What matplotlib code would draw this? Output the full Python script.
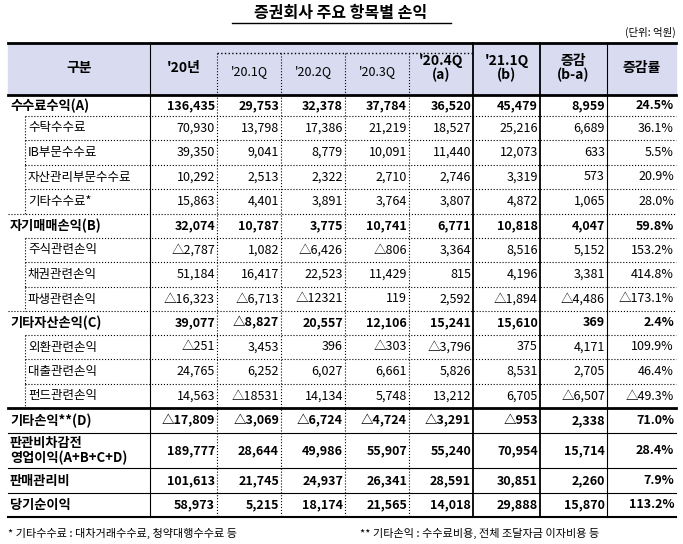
import matplotlib.pyplot as plt

plt.rcParams["font.family"] = ["Noto Sans CJK JP", "Noto Sans CJK KR", "Noto Sans CJK SC", "DejaVu Sans"]

title = "증권회사 주요 항목별 손익"
unit = "(단위: 억원)"
headers = ["구분", "'20년", "'20.1Q", "'20.2Q", "'20.3Q", "'20.4Q\n(a)", "'21.1Q\n(b)", "증감\n(b-a)", "증감률"]

items = ["수수료수익(A)", "수탁수수료", "IB부문수수료", "자산관리부문수수료", "기타수수료*",
         "자기매매손익(B)", "주식관련손익", "채권관련손익", "파생관련손익",
         "기타자산손익(C)", "외환관련손익", "대출관련손익", "펀드관련손익",
         "기타손익**(D)", "판관비차감전\n영업이익(A+B+C+D)", "판매관리비", "당기순이익"]
is_sub = [0, 1, 1, 1, 1, 0, 1, 1, 1, 0, 1, 1, 1, 0, 0, 0, 0]

y2020 = ["136,435", "70,930", "39,350", "10,292", "15,863", "32,074", "△2,787", "51,184", "△16,323",
         "39,077", "△251", "24,765", "14,563", "△17,809", "189,777", "101,613", "58,973"]
q1 = ["29,753", "13,798", "9,041", "2,513", "4,401", "10,787", "1,082", "16,417", "△6,713",
      "△8,827", "3,453", "6,252", "△18531", "△3,069", "28,644", "21,745", "5,215"]
q2 = ["32,378", "17,386", "8,779", "2,322", "3,891", "3,775", "△6,426", "22,523", "△12321",
      "20,557", "396", "6,027", "14,134", "△6,724", "49,986", "24,937", "18,174"]
q3 = ["37,784", "21,219", "10,091", "2,710", "3,764", "10,741", "△806", "11,429", "119",
      "12,106", "△303", "6,661", "5,748", "△4,724", "55,907", "26,341", "21,565"]
q4 = ["36,520", "18,527", "11,440", "2,746", "3,807", "6,771", "3,364", "815", "2,592",
      "15,241", "△3,796", "5,826", "13,212", "△3,291", "55,240", "28,591", "14,018"]
q21 = ["45,479", "25,216", "12,073", "3,319", "4,872", "10,818", "8,516", "4,196", "△1,894",
       "15,610", "375", "8,531", "6,705", "△953", "70,954", "30,851", "29,888"]
diff = ["8,959", "6,689", "633", "573", "1,065", "4,047", "5,152", "3,381", "△4,486",
        "369", "4,171", "2,705", "△6,507", "2,338", "15,714", "2,260", "15,870"]
rate = ["24.5%", "36.1%", "5.5%", "20.9%", "28.0%", "59.8%", "153.2%", "414.8%", "△173.1%",
        "2.4%", "109.9%", "46.4%", "△49.3%", "71.0%", "28.4%", "7.9%", "113.2%"]
columns = [y2020, q1, q2, q3, q4, q21, diff, rate]

# layout in pixels
xs = [8, 150, 217, 281, 345, 409, 473, 540, 607, 676]
row_edges = [95, 116, 140, 165, 189, 214, 238, 262, 287, 311, 335, 359, 384, 408, 433, 468, 493, 517]
header_top = 43

fig = plt.figure(figsize=(6.83, 5.44), dpi=100)
ax = fig.add_axes([0, 0, 1, 1])
ax.set_xlim(0, 683)
ax.set_ylim(544, 0)
ax.axis("off")

ax.text(341, 13, title, ha="center", va="center", fontsize=11.5, fontweight="bold")
ax.plot([232, 451], [23, 23], color="black", lw=1)
ax.text(676, 32, unit, ha="right", va="center", fontsize=7.5)

# header
ax.fill_between([xs[0], xs[-1]], header_top, row_edges[0], color="#D9DCF0")
for i, h in enumerate(headers):
    xc = (xs[i] + xs[i + 1]) / 2
    quarter = 2 <= i <= 4
    ax.text(xc, 72 if quarter else 68, h, ha="center", va="center", fontsize=9 if quarter else 10,
            fontweight="normal" if quarter else "bold", linespacing=1.0)
ax.plot([xs[0], xs[-1]], [header_top, header_top], color="black", lw=2)
ax.plot([xs[0], xs[-1]], [row_edges[0], row_edges[0]], color="black", lw=2)
ax.plot([xs[2], xs[6]], [53, 53], color="black", lw=1, ls=":")

# body
for r, name in enumerate(items):
    top, bot = row_edges[r], row_edges[r + 1]
    yc = (top + bot) / 2
    bold = not is_sub[r]
    if is_sub[r]:
        ax.text(28, yc, name, ha="left", va="center", fontsize=9)
    else:
        ax.text(10, yc, name, ha="left", va="center", fontsize=9.5, fontweight="bold", linespacing=1.1)
    for c, col in enumerate(columns):
        ax.text(xs[c + 2] - 2, yc, col[r], ha="right", va="center", fontsize=9,
                fontweight="bold" if bold else "normal")
    nxt_sub = r + 1 < len(items) and is_sub[r + 1]
    if r + 1 < len(items):
        if r == 12:
            ax.plot([xs[0], xs[-1]], [bot, bot], color="black", lw=2)
        elif is_sub[r] or nxt_sub:
            ax.plot([25 if nxt_sub else xs[0], xs[-1]], [bot, bot], color="black", lw=0.8, ls=":")
        else:
            ax.plot([xs[0], xs[-1]], [bot, bot], color="black", lw=0.8)
    else:
        ax.plot([xs[0], xs[-1]], [bot, bot], color="black", lw=1.5)
    if is_sub[r]:
        ax.plot([25, 25], [top, bot], color="black", lw=0.8, ls=":")

# vertical lines
for i, x in enumerate(xs[1:-1], start=1):
    if i in (6, 7):
        ax.plot([x, x], [header_top, row_edges[-1]], color="black", lw=1.3)
    elif i in (2, 3, 4, 5):
        ax.plot([x, x], [53, row_edges[-1]], color="black", lw=0.8, ls=":")
    else:
        ax.plot([x, x], [header_top, row_edges[-1]], color="black", lw=0.8)

ax.text(8, 533, "* 기타수수료 : 대차거래수수료, 청약대행수수료 등", ha="left", va="center", fontsize=8)
ax.text(360, 533, "** 기타손익 : 수수료비용, 전체 조달자금 이자비용 등", ha="left", va="center", fontsize=8)

fig.savefig("out.png", dpi=100)
